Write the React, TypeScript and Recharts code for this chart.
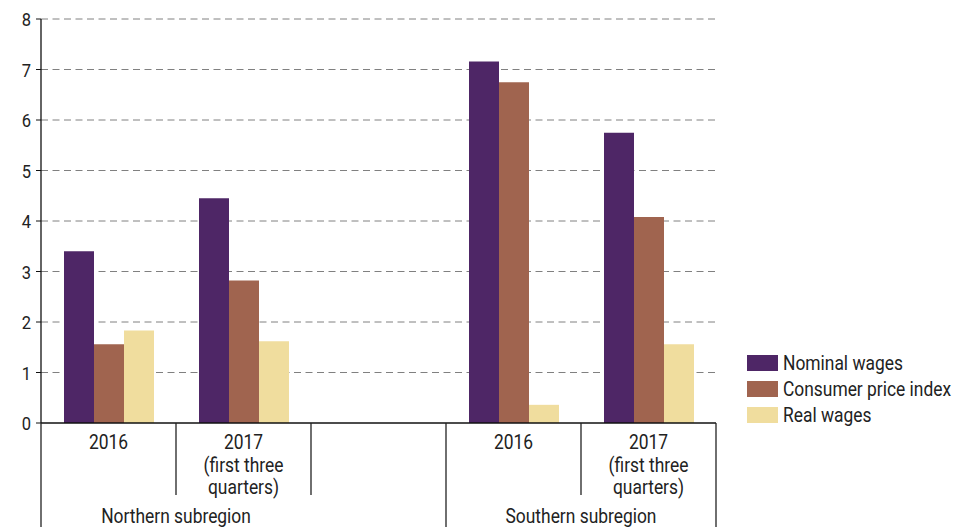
import React from "react"
import { BarChart, Bar, XAxis, YAxis, CartesianGrid } from "recharts"

// slots on the category axis (middle one is an empty spacer)
const slots = ["n2016", "n2017", "gap", "s2016", "s2017"]
const slotLabels = [
  ["2016"],
  ["2017", "(first three", "quarters)"],
  [],
  ["2016"],
  ["2017", "(first three", "quarters)"],
]
const regionLabels = ["Northern subregion", "", "", "Southern subregion", ""]

const nominalWages = [3.4, 4.45, null, 7.16, 5.75]
const consumerPriceIndex = [1.56, 2.82, null, 6.75, 4.08]
const realWages = [1.83, 1.62, null, 0.36, 1.56]

const yTicks = [0, 1, 2, 3, 4, 5, 6, 7, 8]

const seriesNames = ["Nominal wages", "Consumer price index", "Real wages"]
const colors = ["#4e2666", "#a0644f", "#f0dd9e"]

const FONT = "Roboto, 'Liberation Sans', sans-serif"
const SX = 0.87 // condensed look

const chartData = slots.map((slot, i) => ({
  slot,
  nominal: nominalWages[i],
  cpi: consumerPriceIndex[i],
  real: realWages[i],
}))

function NarrowText({ x, y, anchor = "middle", size = 20, children }: any) {
  return (
    <text
      transform={`translate(${x},${y}) scale(${SX},1)`}
      textAnchor={anchor}
      fontSize={size}
      fill="#222"
      fontFamily={FONT}
    >
      {children}
    </text>
  )
}

function SlotTick(props: any) {
  const { x, y, index, width, visibleTicksCount } = props
  const bw = width / visibleTicksCount
  const left = x - bw / 2
  const lines = slotLabels[index] || []
  const longLeft = index === 0 || index === 3
  const isLast = index === visibleTicksCount - 1
  return (
    <g>
      <line x1={left} x2={left} y1={y} y2={longLeft ? 527 : 495} stroke="#222" strokeWidth={1.3} />
      {isLast && <line x1={left + bw} x2={left + bw} y1={y} y2={527} stroke="#222" strokeWidth={1.3} />}
      {lines.map((t, i) => (
        <NarrowText key={i} x={x} y={y + 26 + i * 22.5}>
          {t}
        </NarrowText>
      ))}
      {regionLabels[index] && (
        <NarrowText x={x + bw / 2} y={y + 100}>
          {regionLabels[index]}
        </NarrowText>
      )}
    </g>
  )
}

function YTick(props: any) {
  const { x, y, payload } = props
  return (
    <NarrowText x={x} y={y + 7} anchor="end" size={19}>
      {payload.value}
    </NarrowText>
  )
}

export default function App() {
  return (
    <div style={{ position: "absolute", left: 0, top: 0, width: 955, height: 527, background: "#fff" }}>
      <BarChart
        width={955}
        height={527}
        data={chartData}
        margin={{ top: 19, right: 239, left: 0, bottom: 0 }}
        barSize={30}
        barGap={0}
      >
        <CartesianGrid vertical={false} stroke="#808080" strokeDasharray="7 4.5" horizontalValues={[1, 2, 3, 4, 5, 6, 7, 8]} />
        <XAxis
          dataKey="slot"
          height={104}
          interval={0}
          tickLine={false}
          tickSize={0}
          tickMargin={0}
          axisLine={{ stroke: "#111", strokeWidth: 1.3 }}
          tick={<SlotTick />}
        />
        <YAxis
          width={41}
          domain={[0, 8]}
          ticks={yTicks}
          interval={0}
          tickSize={5}
          tickMargin={5}
          axisLine={{ stroke: "#111", strokeWidth: 1.3 }}
          tickLine={{ stroke: "#111" }}
          tick={<YTick />}
        />
        <Bar dataKey="nominal" name={seriesNames[0]} fill={colors[0]} isAnimationActive={false} />
        <Bar dataKey="cpi" name={seriesNames[1]} fill={colors[1]} isAnimationActive={false} />
        <Bar dataKey="real" name={seriesNames[2]} fill={colors[2]} isAnimationActive={false} />
      </BarChart>
      <svg style={{ position: "absolute", left: 0, top: 0, pointerEvents: "none" }} width={955} height={527}>
        {seriesNames.map((n, i) => (
          <g key={n}>
            <rect x={747} y={355 + i * 26} width={31} height={16} fill={colors[i]} />
            <NarrowText x={783} y={370 + i * 26} anchor="start">
              {n}
            </NarrowText>
          </g>
        ))}
      </svg>
    </div>
  )
}
